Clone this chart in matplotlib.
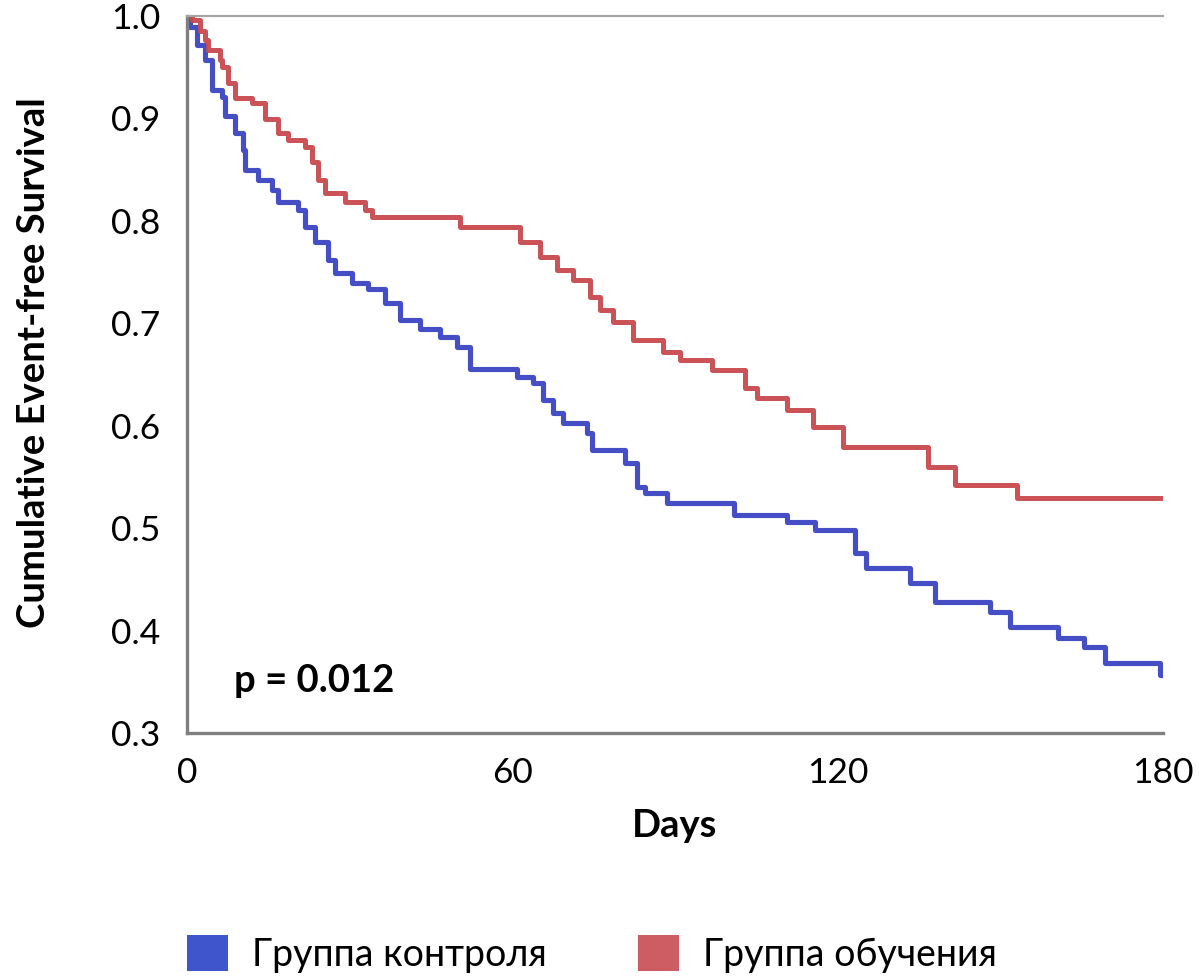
import matplotlib
matplotlib.use('Agg')
import matplotlib.pyplot as plt
from matplotlib.patches import Patch

plt.rcParams['font.family'] = ['Lato', 'Noto Sans', 'DejaVu Sans']

# Kaplan-Meier steps: (day, survival after the step)
control_days = [0, 0.6, 1.8, 3.3, 4.6, 6.5, 7.0, 8.9, 10.3, 10.7, 13.1, 15.7, 16.8,
                20.5, 21.8, 23.6, 26.0, 27.3, 30.4, 33.4, 36.5, 39.3, 43.0, 46.7,
                49.8, 52.2, 60.9, 63.8, 65.7, 67.5, 69.3, 73.8, 74.7, 80.8, 83.0,
                84.5, 88.5, 100.9, 110.7, 115.8, 123.2, 125.2, 133.3, 138.0, 148.1,
                151.8, 160.6, 165.4, 169.3, 179.5, 180]
control_surv = [1.0, 0.989, 0.972, 0.957, 0.928, 0.921, 0.902, 0.886, 0.869, 0.850,
                0.840, 0.830, 0.818, 0.811, 0.794, 0.779, 0.762, 0.749, 0.739, 0.733,
                0.720, 0.703, 0.694, 0.687, 0.677, 0.655, 0.648, 0.642, 0.625, 0.612,
                0.603, 0.593, 0.576, 0.564, 0.540, 0.534, 0.525, 0.513, 0.506, 0.498,
                0.476, 0.461, 0.446, 0.428, 0.418, 0.403, 0.393, 0.384, 0.368, 0.357,
                0.357]

training_days = [0, 0.9, 2.4, 3.3, 3.9, 6.1, 6.5, 7.6, 8.9, 12.0, 14.4, 16.8, 18.6,
                 21.8, 23.1, 24.2, 25.5, 29.1, 32.8, 34.1, 50.4, 61.4, 65.1, 68.2,
                 71.2, 74.3, 76.2, 78.6, 82.3, 87.8, 90.9, 96.8, 102.9, 105.1, 110.7,
                 115.5, 121.0, 136.7, 141.6, 153.1, 180]
training_surv = [1.0, 0.996, 0.985, 0.977, 0.967, 0.957, 0.950, 0.935, 0.920, 0.915,
                 0.899, 0.886, 0.879, 0.872, 0.857, 0.840, 0.827, 0.818, 0.811, 0.804,
                 0.794, 0.779, 0.765, 0.752, 0.742, 0.726, 0.713, 0.701, 0.684, 0.672,
                 0.664, 0.654, 0.637, 0.627, 0.615, 0.599, 0.579, 0.560, 0.542, 0.529,
                 0.529]

group_labels = ['Группа контроля', 'Группа обучения']
x_ticks = [0, 60, 120, 180]
y_ticks = [0.3, 0.4, 0.5, 0.6, 0.7, 0.8, 0.9, 1.0]

W, H = 1199, 977
fig = plt.figure(figsize=(W / 100, H / 100), dpi=100)
ax = fig.add_axes([187 / W, 1 - 733 / H, (1163 - 187) / W, (733 - 16) / H])

ax.step(control_days, control_surv, where='post', color='#3b44c2', lw=3.7, alpha=0.95)
ax.step(training_days, training_surv, where='post', color='#c94a4e', lw=3.6, alpha=0.95)

ax.set_xlim(0, 180)
ax.set_ylim(0.3, 1.0)
ax.set_xticks(x_ticks)
ax.set_xticklabels([str(t) for t in x_ticks])
ax.set_yticks(y_ticks)
ax.set_yticklabels([f'{t:.1f}' for t in y_ticks])
ax.tick_params(length=0, labelsize=25.5, colors='black')
ax.tick_params(axis='x', pad=17)
ax.tick_params(axis='y', pad=19)

for side in ['left', 'bottom']:
    ax.spines[side].set_color('#7f7f7f')
    ax.spines[side].set_linewidth(2.4)
ax.spines['top'].set_color('#a6a6a6')
ax.spines['top'].set_linewidth(1.6)
ax.spines['right'].set_visible(False)

ax.text(0.048, 0.072, 'p = 0.012', transform=ax.transAxes, fontsize=27.5,
        fontweight='bold', ha='left', va='center')

fig.text(34 / W, 1 - 363 / H, 'Cumulative Event-free Survival', rotation=90,
         fontsize=27.5, fontweight='bold', ha='center', va='center')
fig.text(675 / W, 1 - 826 / H, 'Days', fontsize=27.5, fontweight='bold',
         ha='center', va='center')

handles = [Patch(facecolor='#3f55cb', edgecolor='none'),
           Patch(facecolor='#cd5c63', edgecolor='none')]
fig.legend(handles, group_labels, ncol=2, loc='center left',
           bbox_to_anchor=(187 / W, 1 - 954 / H), frameon=False, fontsize=27,
           handlelength=1.09, handleheight=1.09, handletextpad=0.64,
           columnspacing=2.43, borderpad=0, borderaxespad=0)

fig.savefig('out.png', dpi=100)
